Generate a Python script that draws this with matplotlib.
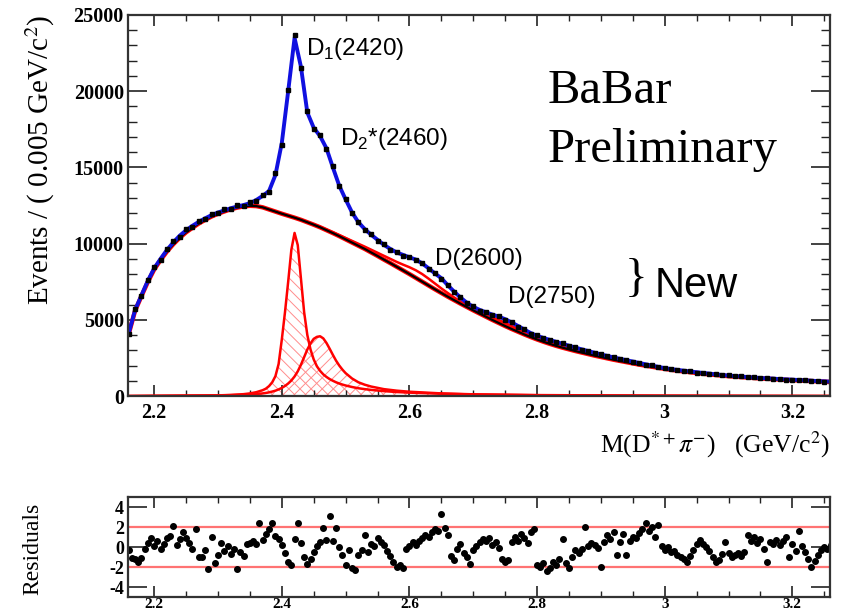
import numpy as np
import matplotlib
matplotlib.use("Agg")
import matplotlib.pyplot as plt
from matplotlib.ticker import MultipleLocator

# bin centres of the fitted histogram (GeV/c^2), 0.01 steps
mass = np.round(np.arange(2.16, 3.2651, 0.01), 3)

# data points
data = [4050, 5700, 6550, 7600, 8450, 8950, 9650, 10150, 10450, 10950,
        11100, 11500, 11600, 11950, 12000, 12250, 12300, 12500, 12480, 12700,
        12800, 13200, 13400, 14600, 16500, 20100, 23700, 21500, 18700, 17500,
        17100, 16200, 15100, 13750, 12950, 12000, 11450, 10900, 10650, 10200,
        9950, 9600, 9450, 9200, 9150, 8900, 8750, 8350, 8100, 7700,
        7300, 6800, 6500, 6100, 5900, 5600, 5520, 5300, 5250, 5000,
        4850, 4550, 4400, 4100, 3980, 3780, 3700, 3520, 3450, 3280,
        3200, 3040, 2980, 2820, 2760, 2610, 2550, 2420, 2370, 2240,
        2190, 2060, 2020, 1890, 1850, 1750, 1730, 1640, 1630, 1540,
        1530, 1450, 1440, 1360, 1360, 1290, 1300, 1220, 1230, 1170,
        1170, 1120, 1130, 1070, 1080, 1040, 1040, 990, 990, 950, 950]

# total fit (blue)
total_fit = [4100, 5630, 6600, 7550, 8380, 9000, 9580, 10080, 10520, 10870,
             11170, 11430, 11660, 11870, 12040, 12180, 12320, 12430, 12530, 12650,
             12860, 13130, 13450, 14500, 16600, 20000, 23500, 21600, 18600, 17600,
             17050, 16250, 15000, 13800, 12900, 12050, 11400, 10950, 10580, 10250,
             9920, 9650, 9420, 9260, 9100, 8950, 8700, 8380, 8040, 7730,
             7270, 6850, 6460, 6120, 5850, 5650, 5490, 5340, 5210, 5040,
             4830, 4600, 4360, 4130, 3950, 3810, 3680, 3550, 3420, 3300,
             3180, 3060, 2950, 2840, 2730, 2630, 2530, 2440, 2350, 2260,
             2170, 2080, 2000, 1910, 1830, 1770, 1710, 1660, 1610, 1560,
             1510, 1470, 1420, 1380, 1340, 1310, 1280, 1240, 1210, 1180,
             1160, 1140, 1110, 1090, 1070, 1050, 1030, 1000, 980, 960, 940]

# background (black)
background = [4050, 5580, 6550, 7480, 8300, 8920, 9480, 9960, 10380, 10740,
              11040, 11320, 11560, 11780, 11960, 12110, 12250, 12360, 12440, 12480,
              12460, 12380, 12240, 12100, 11960, 11830, 11700, 11560, 11400, 11240,
              11070, 10880, 10690, 10490, 10280, 10070, 9860, 9650, 9420, 9190,
              8950, 8720, 8480, 8240, 8000, 7750, 7500, 7250, 7000, 6760,
              6520, 6290, 6060, 5840, 5620, 5410, 5200, 4990, 4790, 4590,
              4400, 4220, 4040, 3870, 3710, 3560, 3420, 3290, 3170, 3060,
              2950, 2850, 2750, 2650, 2560, 2470, 2380, 2300, 2220, 2140,
              2060, 1990, 1920, 1850, 1780, 1720, 1660, 1610, 1560, 1510,
              1460, 1420, 1380, 1340, 1300, 1270, 1240, 1210, 1180, 1150,
              1130, 1110, 1080, 1060, 1040, 1020, 1000, 980, 960, 940, 920]

# background + D(2600) + D(2750) (red)
bkg_new = [4050, 5580, 6550, 7480, 8300, 8920, 9480, 9960, 10380, 10740,
           11040, 11320, 11560, 11780, 11960, 12110, 12250, 12360, 12440, 12480,
           12460, 12380, 12240, 12100, 11960, 11830, 11700, 11560, 11400, 11260,
           11100, 10920, 10740, 10560, 10370, 10180, 9990, 9800, 9600, 9400,
           9200, 9000, 8800, 8620, 8450, 8250, 8000, 7700, 7380, 7060,
           6760, 6470, 6200, 5960, 5740, 5540, 5350, 5170, 4990, 4800,
           4600, 4390, 4180, 3990, 3810, 3640, 3480, 3340, 3210, 3090,
           2980, 2870, 2770, 2670, 2570, 2470, 2380, 2300, 2220, 2140,
           2060, 1990, 1920, 1850, 1780, 1720, 1660, 1610, 1560, 1510,
           1460, 1420, 1380, 1340, 1300, 1270, 1240, 1210, 1180, 1150,
           1130, 1110, 1080, 1060, 1040, 1020, 1000, 980, 960, 940, 920]

# D1(2420) and D2*(2460) signal shapes
peak_mass = [2.16, 2.30, 2.32, 2.34, 2.35, 2.36, 2.37, 2.375, 2.38, 2.385,
             2.39, 2.395, 2.40, 2.405, 2.41, 2.415, 2.42, 2.425, 2.43, 2.435,
             2.44, 2.445, 2.45, 2.455, 2.46, 2.465, 2.47, 2.475, 2.48, 2.485,
             2.49, 2.495, 2.50, 2.51, 2.52, 2.53, 2.54, 2.56, 2.58, 2.60,
             2.65, 2.70, 2.80, 3.00, 3.26]
d1_2420 = [0, 40, 70, 120, 170, 250, 380, 480, 650, 900,
           1300, 2100, 3700, 5500, 7500, 9600, 10700, 9900, 7700, 5500,
           4000, 3050, 2400, 1950, 1650, 1420, 1250, 1110, 1000, 900,
           820, 750, 690, 590, 510, 450, 400, 320, 260, 220,
           150, 100, 50, 20, 0]
d2_2460 = [0, 40, 55, 80, 100, 130, 170, 200, 240, 290,
           350, 430, 530, 660, 820, 1020, 1280, 1620, 2050, 2550,
           3050, 3450, 3750, 3880, 3920, 3780, 3480, 3100, 2700, 2320,
           2000, 1730, 1500, 1150, 900, 740, 620, 450, 350, 280,
           170, 110, 60, 20, 0]

# residuals, 0.005 GeV/c^2 bins
res_mass = np.round(np.arange(2.16, 3.2626, 0.005), 3)
residuals = [-0.3, -1.1, -1.2, -1.5, -1.1, -0.2, 0.4, 0.9, 0.1, 0.6,
             -0.2, 0.3, 0.9, 1.1, 2.1, 0.2, 0.8, 1.5, 0.9, 0.4,
             -0.2, 1.8, -1.0, -1.0, -0.3, -2.2, 1.0, -1.6, -0.8, 0.4,
             -0.4, 0.1, -0.7, -0.2, -2.2, -0.5, -0.9, 0.3, 0.4, 0.6,
             0.3, 2.4, 0.7, 1.3, 1.8, 2.4, 1.1, 0.8, 0.2, -0.6,
             -1.5, -1.8, 0.8, 2.4, 0.4, -1.0, -1.7, -1.2, -0.5, 0.1,
             0.5, 1.9, 0.7, 3.1, 0.6, 1.9, 0.0, -0.8, -1.8, -0.3,
             -2.1, -2.3, -0.8, -0.3, 1.2, -0.5, 0.3, 0.1, 0.9, 0.5,
             0.2, -0.4, -0.9, -1.5, -2.0, -1.8, -2.1, -0.2, 0.1, 0.5,
             0.2, 0.6, 0.9, 1.2, 1.0, 1.5, 1.8, 1.6, 3.3, 1.9,
             1.2, -0.9, -1.3, -0.2, 0.3, -0.6, -1.0, -1.7, -0.3, 0.1,
             0.5, 0.8, 0.6, 0.9, 0.2, 0.5, -0.1, -1.2, -1.5, -1.3,
             0.5, 1.0, 0.6, 1.3, 0.9, 0.4, 1.5, 1.8, -1.8, -2.0,
             -1.6, -2.4, -2.1, -1.5, -1.8, -1.2, 0.8, -1.6, -2.1, -1.0,
             -0.3, -0.6, -0.2, 2.0, 0.1, 0.4, 0.2, -0.1, -2.0, 0.5,
             1.2, 0.8, 1.5, -0.8, 0.5, 1.3, -0.8, 0.6, 1.0, 0.9,
             1.4, 1.8, 2.4, 1.6, 2.0, 1.0, 2.2, 0.1, -0.3, 0.0,
             -0.5, -0.4, -0.8, -1.0, -1.2, -1.5, -0.9, -0.3, 0.3, 0.7,
             0.3, 0.0, -0.4, -1.0, -1.5, -1.3, -0.7, 0.5, -0.6, -1.0,
             -0.8, -0.6, -0.9, -0.5, 1.2, 0.6, 1.0, 0.4, 0.8, -0.2,
             -1.5, 0.5, 0.3, 0.7, 0.2, 0.6, 1.0, -1.0, 0.3, -0.4,
             1.6, 0.1, -0.5, -1.2, -2.0, -1.4, -0.8, -0.3, 0.0, -0.2,
             0.2]

XMIN, XMAX = 2.159, 3.259
SERIF = "Liberation Serif"
SANS = "Liberation Sans"
plt.rcParams["mathtext.fontset"] = "stix"
plt.rcParams["hatch.linewidth"] = 0.7

W, H = 844, 614
fig = plt.figure(figsize=(W / 100, H / 100), dpi=100)
ax = fig.add_axes([128 / W, 1 - 396 / H, 702 / W, 381 / H])
rax = fig.add_axes([128 / W, 1 - 597 / H, 702 / W, 100 / H])

# --- main fit panel ---
hatch_col = (1.0, 0.55, 0.55)
ax.fill_between(peak_mass, 0, d1_2420, facecolor="none", edgecolor=hatch_col,
                hatch="\\\\\\", linewidth=0)
ax.fill_between(peak_mass, 0, d2_2460, facecolor="none", edgecolor=hatch_col,
                hatch="///", linewidth=0)
ax.plot(peak_mass, d1_2420, color="red", lw=1.8)
ax.plot(peak_mass, d2_2460, color="red", lw=1.8)
ax.axhline(0, color="red", lw=2)

ax.plot(mass, background, color="red", lw=3.2)
ax.plot(mass, bkg_new, color="red", lw=1.8)
ax.plot(mass, background, color="black", lw=1.6)
ax.plot(mass, total_fit, color="#1010e0", lw=2.8)
ax.plot(mass, data, "s", color="black", ms=3)

ax.set_xlim(XMIN, XMAX)
ax.set_ylim(0, 25000)
ax.xaxis.set_minor_locator(MultipleLocator(0.05))
ax.yaxis.set_major_locator(MultipleLocator(5000))
ax.yaxis.set_minor_locator(MultipleLocator(1000))
ax.set_xticks([2.2, 2.4, 2.6, 2.8, 3.0, 3.2])
ax.set_xticklabels(["2.2", "2.4", "2.6", "2.8", "3", "3.2"])

rax.axhline(2, color=(1, 0.45, 0.45), lw=1.6)
rax.axhline(-2, color=(1, 0.45, 0.45), lw=1.6)
rax.plot(res_mass, residuals, "o", color="black", ms=4)
rax.set_xlim(XMIN, XMAX)
rax.set_ylim(-5, 5)
rax.set_xticks([2.2, 2.4, 2.6, 2.8, 3.0, 3.2])
rax.set_xticklabels(["2.2", "2.4", "2.6", "2.8", "3", "3.2"])
rax.xaxis.set_minor_locator(MultipleLocator(0.05))
rax.set_yticks([-4, -2, 0, 2, 4])
rax.set_yticklabels(["-4", "-2", "0", "2", "4"])

for a in (ax, rax):
    a.tick_params(which="both", direction="in", top=True, right=True,
                  colors="#222222", labelcolor="black")
    a.tick_params(axis="x", which="major", length=8, width=1.2)
    a.tick_params(axis="x", which="minor", length=4, width=1)
    a.tick_params(axis="y", which="major", length=14, width=1.2)
    a.tick_params(axis="y", which="minor", length=6.5, width=1)
    for s in a.spines.values():
        s.set_linewidth(1.6)
        s.set_color("#333333")
    for lab in a.get_xticklabels() + a.get_yticklabels():
        lab.set_fontfamily(SERIF)
        lab.set_fontweight("bold")
        lab.set_fontsize(14.5)
ax.tick_params(axis="x", pad=5)
ax.tick_params(axis="y", pad=3)
rax.tick_params(axis="x", pad=1)
rax.tick_params(axis="y", pad=3)
for lab in rax.get_xticklabels():
    lab.set_fontsize(11)
for lab in rax.get_yticklabels():
    lab.set_fontsize(13)

fig.text(40 / W, 1 - 160 / H, r"Events / ( 0.005 GeV/c$^{2}$)", rotation=90,
         ha="center", va="center", family=SERIF, fontsize=21)
fig.text(830 / W, 1 - 445 / H, r"M(D$^{*+}\pi^{-}$)   (GeV/c$^{2}$)",
         ha="right", va="center", family=SERIF, fontsize=18.5)

ann = dict(family=SANS, fontsize=17.5, math_fontfamily="dejavusans")
fig.text(306 / W, 1 - 55 / H, r"D$_{\mathregular{1}}$(2420)", ha="left", va="baseline", **ann)
fig.text(340 / W, 1 - 145 / H, r"D$_{\mathregular{2}}$*(2460)", ha="left", va="baseline", **ann)
fig.text(435 / W, 1 - 265 / H, "D(2600)", ha="left", va="baseline", **ann)
fig.text(508 / W, 1 - 303 / H, "D(2750)", ha="left", va="baseline", **ann)
fig.text(636 / W, 1 - 280 / H, "}", ha="center", va="center", family=SERIF,
         fontsize=34, fontweight="light")
fig.text(655 / W, 1 - 297 / H, "New", ha="left", va="baseline", family=SANS, fontsize=30)
fig.text(548 / W, 1 - 103 / H, "BaBar", ha="left", va="baseline", family=SERIF, fontsize=35)
fig.text(548 / W, 1 - 162 / H, "Preliminary", ha="left", va="baseline", family=SERIF, fontsize=35)

fig.text(33 / W, 1 - 549 / H, "Residuals", rotation=90, ha="center", va="center",
         family=SERIF, fontsize=17)

fig.savefig("out.png", dpi=100)
